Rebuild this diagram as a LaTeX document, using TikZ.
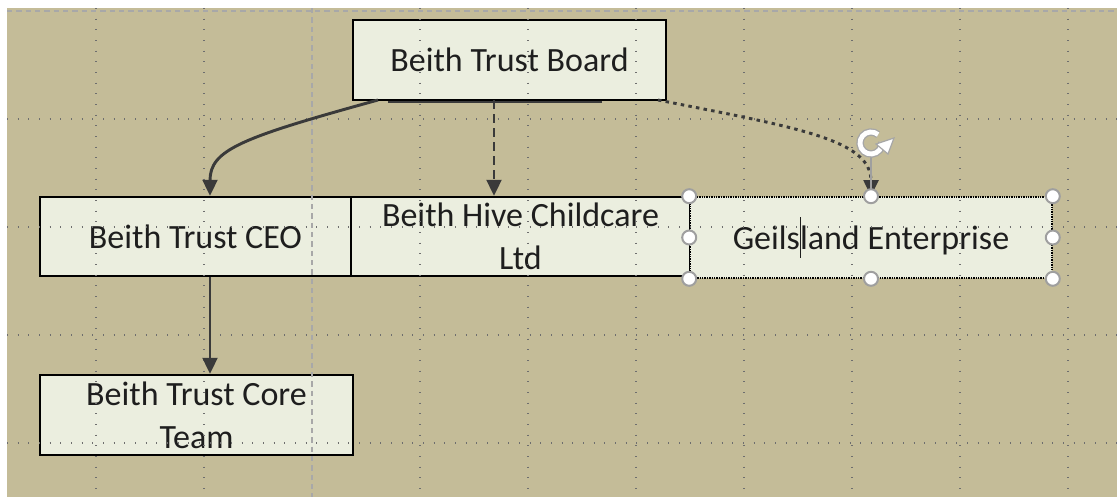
\documentclass[tikz,border=0pt]{standalone}
\usepackage{fontspec}
\setmainfont{Carlito}
\usetikzlibrary{arrows.meta}
\definecolor{bgtan}{HTML}{C4BC98}
\definecolor{boxfill}{HTML}{EBEEDF}
\definecolor{linkc}{HTML}{3A3A3A}
\definecolor{gridc}{HTML}{6E6E6E}
\definecolor{textc}{HTML}{1E1E1E}
\tikzset{
  orgbox/.style={draw=black, line width=1.7pt, fill=boxfill, rectangle, inner sep=0pt, align=center,
    text=textc, font=\fontsize{25.5}{32}\selectfont},
  link/.style={draw=linkc, line width=2.2pt, -{Triangle[length=12pt,width=11pt]}},
  gridv/.style={gridc, line width=0.8pt, dash pattern=on 0.8pt off 7.2pt},
  gridmain/.style={gridc!60, line width=0.8pt, dash pattern=on 4pt off 3pt},
  handle/.style={circle, draw=gray!75, line width=1.5pt, fill=white, inner sep=0pt, minimum size=10.5pt},
}
\newcommand{\txtcursor}{\makebox[0pt]{\rule[-0.25em]{0.7pt}{1.2em}}}
\begin{document}
\begin{tikzpicture}[x=0.75pt,y=-0.75pt]
\useasboundingbox (0,0) rectangle (1117,497);
\fill[white] (0,0) rectangle (1117,497);
\fill[bgtan] (7,8) rectangle (1117,497);
% boxes
\node[orgbox, minimum width=313*0.75pt, minimum height=80*0.75pt] (board) at (509.5,60) {Beith Trust Board};
\draw[linkc, line width=1.5pt] (388,101.5) -- (602,101.5);
\node[orgbox, minimum width=311*0.75pt, minimum height=79*0.75pt] (ceo) at (195.5,236.5) {\raisebox{-2pt}{Beith Trust CEO}};
\node[orgbox, minimum width=339*0.75pt, minimum height=79*0.75pt] (hive) at (520.5,236.5) {Beith Hive Childcare\\Ltd};
\node[orgbox, draw=black, dash pattern=on 1pt off 0.8pt, line width=1.2pt, minimum width=362*0.75pt, minimum height=81*0.75pt] (geils) at (871,237.5) {Geils\txtcursor land Enterprise};
\node[orgbox, minimum width=313*0.75pt, minimum height=80*0.75pt] (core) at (196.5,415) {Beith Trust Core\\Team};
% grid
\foreach \gx in {96,204,420,528,636,744,852,960,1068}
  \draw[gridv] (\gx,8) -- (\gx,497);
\draw[gridmain] (312,8) -- (312,497);
\foreach \gy in {119,227,335,443}
  \draw[gridv] (7,\gy) -- (1117,\gy);
\draw[gridmain] (7,11) -- (1117,11);
% connectors
\coordinate (b1) at (378,100);
\coordinate (b2) at (494,100);
\coordinate (b3) at (658,100);
\draw[link] (b1) .. controls (240,138) and (210,150) .. (ceo.north -| 210,0);
\draw[link, dash pattern=on 7pt off 3.5pt] (b2) -- (hive.north -| b2);
\draw[link, dash pattern=on 2.6pt off 3.2pt] (b3) .. controls (800,128) and (871,140) .. (geils.north);
\draw[link] (ceo.south -| 210,0) -- (core.north -| 210,0);
% selection handles
\draw[gray!75, line width=0.9pt] (871,156) -- (geils.north);
\foreach \hp in {north west,north,north east,west,east,south west,south,south east}
  \node[handle] at (geils.\hp) {};
% rotation icon
\coordinate (rot) at (871,143);
\draw[gray!70, line width=5.6pt] ([shift={(-5:11)}]rot) arc[start angle=-5, end angle=310, radius=11];
\draw[white, line width=3.6pt] ([shift={(-5:11)}]rot) arc[start angle=-5, end angle=310, radius=11];
\fill[white, draw=gray!70, line width=0.9pt] (876,144) -- (894,138) -- (888,154) -- cycle;
\end{tikzpicture}
\end{document}
